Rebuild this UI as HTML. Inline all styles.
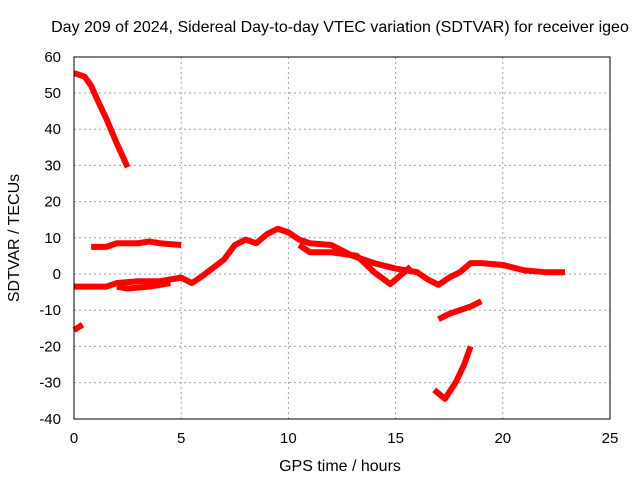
<!DOCTYPE html>
<html><head><meta charset="utf-8"><style>
body{margin:0;background:#fff;font-family:"Liberation Sans",sans-serif;}
svg text{font-family:"Liberation Sans",sans-serif;font-size:15px;fill:#000;}
</style></head><body>
<svg id="chart" width="640" height="480">
<text x="340" y="32" text-anchor="middle" style="font-size:16px">Day 209 of 2024, Sidereal Day-to-day VTEC variation (SDTVAR) for receiver igeo</text>
<text x="340" y="471" text-anchor="middle" style="font-size:16px">GPS time / hours</text>
<text transform="translate(19,238) rotate(-90)" text-anchor="middle" style="font-size:16px">SDTVAR / TECUs</text>
<g id="grid"></g><g id="ticks"></g><g id="series"></g>
<rect x="74" y="57" width="536" height="362" fill="none" stroke="#000" stroke-width="1"/>
</svg>
<script>
const xTicks=[0,5,10,15,20,25];
const yTicks=[-40,-30,-20,-10,0,10,20,30,40,50,60];
const s1t=[0,0.5,0.8,1.1,1.5,2,2.5];
const s1v=[55.5,54.5,52,48,43,36,29.5];
const s2t=[0,0.4];
const s2v=[-15.5,-14];
const s3t=[0.8,1.5,2,3,3.5,4,5];
const s3v=[7.5,7.5,8.5,8.5,9,8.5,8];
const s4t=[0,1,1.5,2,3,4,5,5.5,6,7,7.5,8,8.5,9,9.5,10,10.5,11,12,13,14,15,16,16.5,17,17.5,18,18.5,19,20,21,22,22.9];
const s4v=[-3.5,-3.5,-3.5,-2.5,-2,-2,-1,-2.5,-0.5,4,8,9.5,8.5,11,12.5,11.5,9.5,8.5,8,5,3,1.5,0.5,-1.5,-3,-1,0.5,3,3,2.5,1,0.5,0.5];
const s5t=[2,2.5,3.5,4,4.5];
const s5v=[-3.5,-4,-3.5,-3,-2.5];
const s6t=[10.5,11,12,13.2,14,14.75,15.7];
const s6v=[8,6,6,5,0.5,-2.8,2];
const s7t=[16.8,17.3,17.8,18.2,18.5];
const s7v=[-32,-34.5,-30,-25,-20];
const s8t=[17,17.5,18,18.5,19];
const s8v=[-12.5,-11,-10,-9,-7.5];
const X=t=>74+t*21.44, Y=v=>274-v*3.62;
const NS="http://www.w3.org/2000/svg";
const grid=document.getElementById('grid'),ticks=document.getElementById('ticks'),ser=document.getElementById('series');
function mk(tag,attrs,parent){const e=document.createElementNS(NS,tag);for(const k in attrs)e.setAttribute(k,attrs[k]);parent.appendChild(e);return e;}
xTicks.forEach(t=>{
 if(t>0&&t<25){const g=mk('line',{x1:X(t),x2:X(t),y1:57,y2:419,stroke:'#a0a0a0','stroke-dasharray':'2,3'},grid);
 
 }
 const l=mk('text',{x:X(t),y:443,'text-anchor':'middle'},ticks);l.textContent=t;
 
 
});
yTicks.forEach(v=>{
 if(v>-40&&v<60){const g=mk('line',{x1:74,x2:610,y1:Y(v),y2:Y(v),stroke:'#a0a0a0','stroke-dasharray':'2,3'},grid);
 
 }
 const l=mk('text',{x:61,y:Y(v)+5,'text-anchor':'end'},ticks);l.textContent=v;
 
 
});
[[s1t,s1v],[s2t,s2v],[s3t,s3v],[s4t,s4v],[s5t,s5v],[s6t,s6v],[s7t,s7v],[s8t,s8v]].forEach((s,i)=>{
 const p=mk('polyline',{points:s[0].map((t,j)=>X(t)+','+Y(s[1][j])).join(' '),fill:'none',stroke:'#ff0000','stroke-width':6,'stroke-linejoin':'round'},ser);
 
 
});
</script>
</body></html>
